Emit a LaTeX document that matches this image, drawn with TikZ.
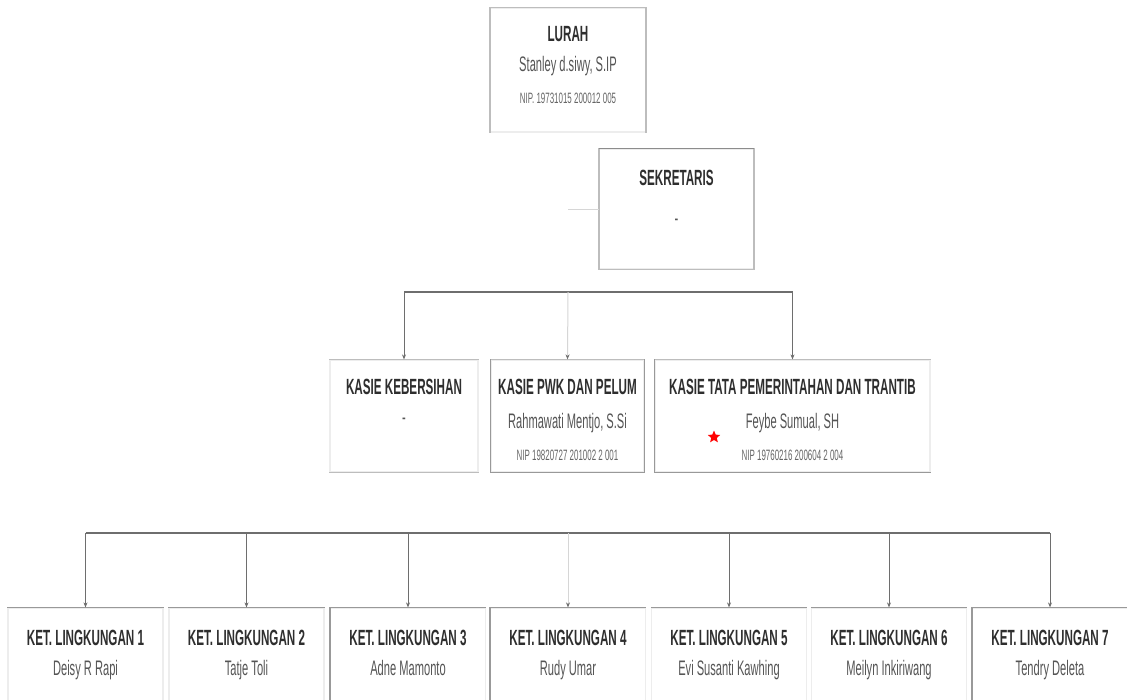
\documentclass[tikz,border=0pt]{standalone}
\usepackage{fontspec}
\setmainfont{Liberation Sans}[FakeStretch=0.53]
\usetikzlibrary{shapes.geometric,arrows.meta,calc,backgrounds}

\definecolor{boxline}{HTML}{EDEDED}
\definecolor{edgec}{HTML}{BDBDBD}
\definecolor{titlec}{HTML}{2E2E2E}
\definecolor{namec}{HTML}{555555}
\definecolor{nipc}{HTML}{666666}
\definecolor{busc}{HTML}{6E6E6E}
\definecolor{trunkc}{HTML}{D6D6D6}

\tikzset{
  unitbox/.style={draw=boxline, line width=1.2pt, fill=white, inner sep=0pt},
  topbox/.style={unitbox, minimum width=155pt, minimum height=124pt},
  kasiebox/.style={unitbox, minimum height=112pt},
  lingbox/.style={unitbox, minimum width=155pt, minimum height=102pt},
  edge/.style={draw=edgec, line width=1.4pt},
  title/.style={font=\bfseries\fontsize{22}{24}\selectfont, text=titlec, inner sep=0pt, anchor=base},
  person/.style={font=\fontsize{21}{23}\selectfont, text=namec, inner sep=0pt, anchor=base},
  blank/.style={font=\fontsize{21}{23}\selectfont, text=namec, inner sep=0pt},
  nip/.style={font=\fontsize{15}{17}\selectfont, text=nipc, inner sep=0pt, anchor=base},
  bus/.style={draw=busc, line width=1.8pt},
  drop/.style={draw=busc, line width=1pt, -{Stealth[length=5pt,width=4pt,color=busc]}},
  lightdrop/.style={draw=trunkc, line width=1pt, -{Stealth[length=5pt,width=4pt,color=busc]}},
  trunk/.style={draw=trunkc, line width=1pt},
}

\begin{document}
\begin{tikzpicture}[x=1pt,y=-1pt]
\clip (0,0) rectangle (1127,699);
\fill[white] (0,0) rectangle (1127,699);

% head of the office
\node[topbox] (lurah) at (568,70) {};
\draw[edge] (lurah.south west) -- (lurah.north west) -- (lurah.north east) -- (lurah.south east);
\node[title]  (lurahT) at (568,41) {LURAH};
\node[person] (lurahN) at (568,71.5) {Stanley d.siwy, S.IP};
\node[nip]    (lurahP) at (568,103) {NIP. 19731015 200012 005};

% secretary
\node[unitbox, minimum width=154pt, minimum height=120pt] (sek) at (676.5,209) {};
\draw[edge] (sek.south west) rectangle (sek.north east);
\draw[edge, draw=black!45] (sek.north west) -- (sek.north east);
\node[title] (sekT) at (676.5,185) {SEKRETARIS};
\node[blank] (sekN) at (676.5,222) {-};

% section heads
\node[kasiebox, minimum width=148pt] (kb)  at (404,416) {};
\node[kasiebox, minimum width=153pt] (pwk) at (567.5,416) {};
\node[kasiebox, minimum width=275pt] (tt)  at (792.5,416) {};
\draw[edge] (kb.north west) -- (kb.north east) (kb.south west) -- (kb.south east);
\draw[edge] (pwk.north west) -- (pwk.north east);
\draw[edge, draw=black!40] (pwk.north west) -- (pwk.south west) -- (pwk.south east) -- (pwk.north east);
\draw[edge] (tt.north east) -- (tt.north west);
\draw[edge, draw=black!40] (tt.north west) -- (tt.south west) -- (tt.south east);

\node[title] (kbT) at (404,394) {KASIE KEBERSIHAN};
\node[blank] (kbN) at (404,421) {-};

\node[title]  (pwkT) at (567.5,394) {KASIE PWK DAN PELUM};
\node[person] (pwkN) at (567.5,428.5) {Rahmawati Mentjo, S.Si};
\node[nip]    (pwkP) at (567.5,460) {NIP 19820727 201002 2 001};

\node[title]  (ttT) at (792.5,394) {KASIE TATA PEMERINTAHAN DAN TRANTIB};
\node[person] (ttN) at (792.5,428.5) {Feybe Sumual, SH};
\node[nip]    (ttP) at (792.5,460) {NIP 19760216 200604 2 004};
\node[star, star points=5, star point ratio=2.2, fill=red, draw=none,
      minimum size=13pt, inner sep=0pt] (ttMark) at (714,437) {};

% neighbourhood heads
\foreach \i/\x/\who in {1/85.5/Deisy R Rapi, 2/246.5/Tatje Toli, 3/408/Adne Mamonto,
                        4/568/Rudy Umar, 5/729/Evi Susanti Kawhing,
                        6/889/Meilyn Inkiriwang, 7/1050/Tendry Deleta}{
  \node[lingbox] (ket\i) at (\x,659) {};
  \draw[edge, draw=black!40] (ket\i.north west) -- (ket\i.north east);
  \node[title]  (ket\i T) at (\x,645) {KET. LINGKUNGAN \i};
  \node[person] (ket\i N) at (\x,675.5) {\who};
}
\foreach \i in {3,4,7}{
  \draw[edge, draw=black!40] (ket\i.north west) -- (ket\i.south west);
}

% main line of command, behind the boxes
\begin{scope}[on background layer]
  \draw[trunk] (lurah.south) -- (ket4.north);
\end{scope}
\draw[trunk] (sek.west) -- (sek.west -| lurah.south);

% branch to the section heads
\coordinate (busA) at (568,292);
\draw[bus] (kb.north |- busA) -- (tt.north |- busA);
\draw[drop] (kb.north |- busA) -- (kb.north);
\draw[lightdrop] (busA) -- (pwk.north);
\draw[drop] (tt.north |- busA) -- (tt.north);

% branch to the neighbourhood heads
\coordinate (busB) at (568,533);
\draw[bus] (ket1.north |- busB) -- (ket7.north |- busB);
\foreach \i in {1,2,3,5,6,7}{
  \draw[drop] (ket\i.north |- busB) -- (ket\i.north);
}
\draw[lightdrop] (busB) -- (ket4.north);
\end{tikzpicture}
\end{document}
